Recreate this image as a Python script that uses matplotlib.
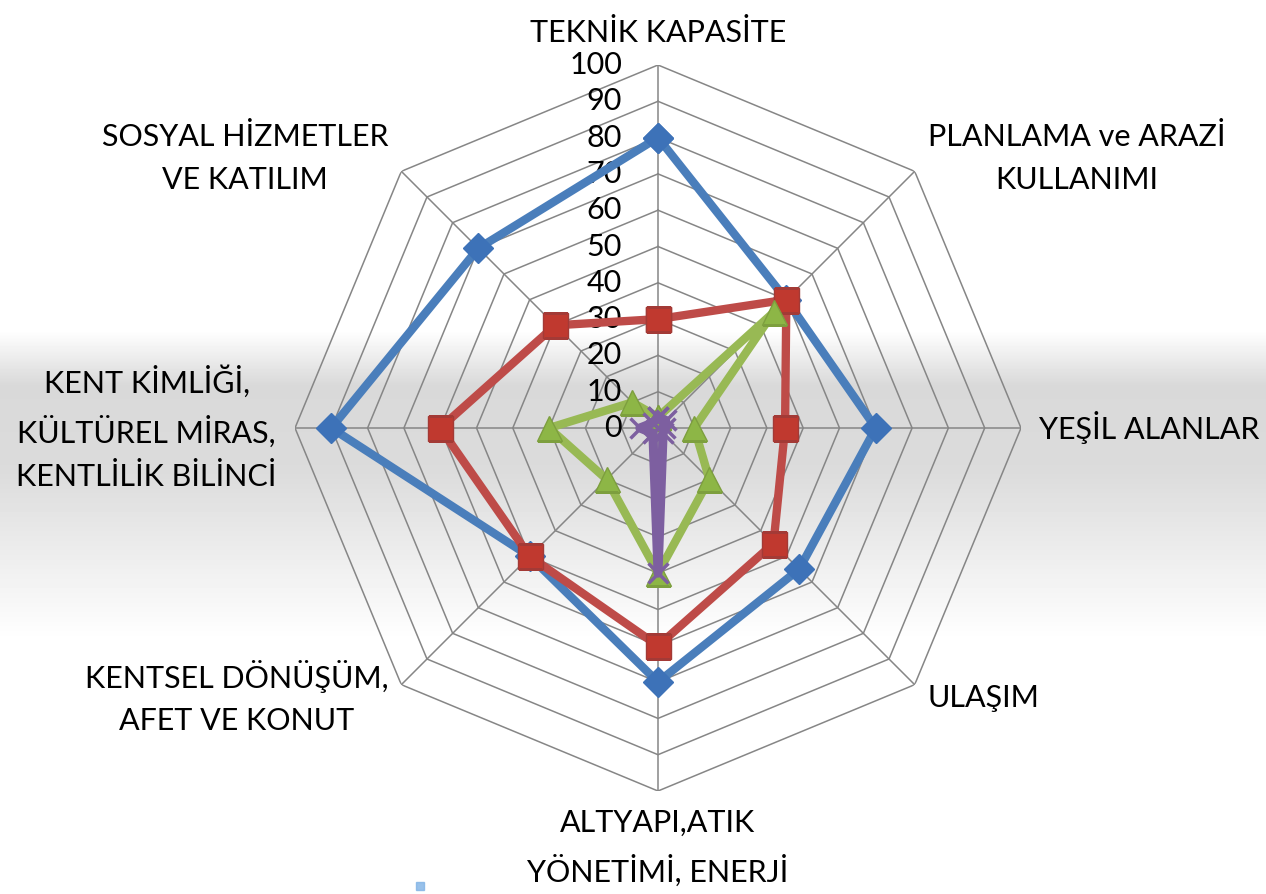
import numpy as np
import matplotlib.pyplot as plt
import matplotlib.transforms as mtrans
from matplotlib.patches import Rectangle

plt.rcParams['font.family'] = ['Lato', 'DejaVu Sans']

kategoriler = ['TEKNİK KAPASİTE', 'PLANLAMA ve ARAZİ\nKULLANIMI', 'YEŞİL ALANLAR',
               'ULAŞIM', 'ALTYAPI,ATIK\nYÖNETİMİ, ENERJİ', 'KENTSEL DÖNÜŞÜM,\nAFET VE KONUT',
               'KENT KİMLİĞİ,\nKÜLTÜREL MİRAS,\nKENTLİLİK BİLİNCİ', 'SOSYAL HİZMETLER\nVE KATILIM']
seri_mavi = [80, 50, 60, 55, 70, 50, 90, 70]
seri_kirmizi = [30, 50, 35, 45, 60, 50, 60, 40]
seri_yesil = [3, 45, 10, 20, 40, 20, 30, 10]
seri_mor = [3, 3, 2, 2, 40, 2, 5, 2]
halkalar = list(range(0, 101, 10))

W, H = 1266, 894
fig = plt.figure(figsize=(W / 100, H / 100), dpi=100)

# arka plandaki gri bant (gradyan)
bg = fig.add_axes([0, 0, 1, 1], zorder=-5)
yy = np.arange(H)
shade = np.ones(H)
shade = np.where((yy >= 330) & (yy < 385), 1 - 0.15 * (yy - 330) / 55, shade)
shade = np.where((yy >= 385) & (yy < 470), 0.85 + 0.01 * (yy - 385) / 85, shade)
shade = np.where((yy >= 470) & (yy < 640), 0.86 + 0.14 * (yy - 470) / 170, shade)
img = np.repeat(shade[:, None], 4, axis=1)
bg.imshow(img, cmap='gray', vmin=0, vmax=1, aspect='auto', extent=[0, 1, 0, 1], origin='upper')
bg.axis('off')

cx, cy, R = 658, 428, 363
ax = fig.add_axes([(cx - R) / W, (H - cy - R) / H, 2 * R / W, 2 * R / H], projection='polar')
ax.set_facecolor('none')
ax.set_theta_offset(np.pi / 2)
ax.set_theta_direction(-1)
ax.set_ylim(0, 100)
ax.grid(False)
ax.spines['polar'].set_visible(False)
ax.set_xticks([])
ax.set_yticks([])

n = len(kategoriler)
acilar = np.linspace(0, 2 * np.pi, n, endpoint=False)
kapali = np.append(acilar, acilar[0])

# sekizgen ızgara
for r in halkalar[1:]:
    ax.plot(kapali, [r] * (n + 1), color='#868686', lw=1.1, zorder=1)
for a in acilar:
    ax.plot([a, a], [0, 100], color='#868686', lw=1.1, zorder=1)

# eksen değerleri, dikey eksenin biraz solunda
sola = ax.transData + mtrans.ScaledTranslation(-36 / 100, 0, fig.dpi_scale_trans)
for r in halkalar:
    ax.text(0, r, str(r), transform=sola, fontsize=22, ha='right', va='center', zorder=2)

def kapat(v):
    return list(v) + [v[0]]

ax.plot(kapali, kapat(seri_mavi), color='#4a7ebb', lw=6, marker='D', ms=15,
        mfc='#3d72b8', mec='#3d72b8', zorder=3)
ax.plot(kapali, kapat(seri_kirmizi), color='#be4b48', lw=6, marker='s', ms=18,
        mfc='#c0392f', mec='#a33a36', zorder=4)
ax.plot(kapali, kapat(seri_yesil), color='#98b954', lw=6, marker='^', ms=18,
        mfc='#8db646', mec='#7d9f3e', zorder=5)
ax.plot(kapali, kapat(seri_mor), color='#7d5fa0', lw=6.5, marker='x', ms=15,
        mew=2.5, mec='#7d5fa0', zorder=6)

for a, etiket in zip(acilar, kategoriler):
    s, c = np.sin(a), np.cos(a)
    if abs(s) < 1e-6:
        ha = 'center'
        va = 'bottom' if c > 0 else 'top'
    else:
        ha = 'left' if s > 0 else 'right'
        va = 'center'
    ax.text(a, 105, etiket, fontsize=22, ha=ha, va=va, multialignment='center',
            linespacing=1.65, zorder=2)

fig.patches.append(Rectangle((416 / W, (H - 890) / H), 8 / W, 8 / H,
                             transform=fig.transFigure, color='#7fb2e5', alpha=0.8))

fig.savefig('out.png', dpi=100)
